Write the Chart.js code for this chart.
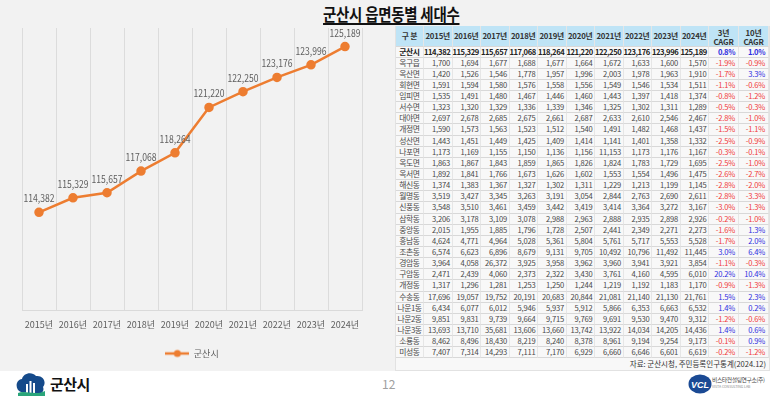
<!DOCTYPE html>
<html><head><meta charset="utf-8">
<script src="https://cdn.jsdelivr.net/npm/chart.js@4.4.1/dist/chart.umd.min.js"></script>
<style>
html,body{margin:0;padding:0;}
body{width:770px;height:396px;position:relative;overflow:hidden;background:#fff;font-family:'Noto Sans CJK KR',sans-serif;}
#panel{position:absolute;left:0;top:0;width:770px;height:371px;background:#f2f2f2;}
#title{position:absolute;left:0;top:1px;width:782px;text-align:center;}
#title span{display:inline-block;font-size:17px;font-weight:bold;color:#111;text-decoration:underline;text-underline-offset:2px;text-decoration-thickness:1.5px;transform:scaleX(0.85);letter-spacing:-0.3px;}
#chartBox{position:absolute;left:0;top:0;width:385px;height:370px;}
#tbl{position:absolute;left:395px;top:26px;width:373px;background:#f8f8f8;border-left:1px solid #e2e2e2;border-right:1px solid #e2e2e2;}
.row{display:grid;grid-template-columns:28px repeat(10,28.5px) 30px 30px;}
.row div{border-right:1px solid #e6e6e6;border-bottom:1px solid #d8d8d8;box-sizing:border-box;font-size:7.6px;color:#484848;text-align:right;padding-right:1.5px;white-space:nowrap;letter-spacing:-0.2px;line-height:10.15px;height:11.15px;overflow:visible;}
.row div.nm{text-align:center;padding:0;letter-spacing:-0.4px;font-size:7.8px;}
.hdr div{background:#bfe4f6;height:20.5px;line-height:20.5px;text-align:center;padding:0;color:#333;font-weight:bold;font-size:7.8px;white-space:pre;}
.hdr div.two{line-height:9px;padding-top:1.5px;}
.tot div{font-weight:bold;color:#222;letter-spacing:-0.45px;}
.neg{color:#f03a3a !important;}
.pos{color:#2f2fe0 !important;}
#src{height:12px;font-size:7.5px;color:#333;text-align:right;padding-right:3px;line-height:12px;border-bottom:1px solid #e2e2e2;}
#foot{position:absolute;left:0;top:371px;width:770px;height:25px;background:#fff;}
</style></head>
<body>
<div id="panel"></div>
<div id="title"><span>군산시 읍면동별 세대수</span></div>
<div id="chartBox"><canvas id="c" width="385" height="370"></canvas></div>
<div id="tbl"></div>
<div id="foot">
  <svg style="position:absolute;left:15px;top:1px" width="32" height="25" viewBox="0 0 32 25">
    <path d="M6 20 C0 18 0 8 7 7 C8 1 17 -1 21 4 C28 3 32 10 28 15 C30 20 25 23 20 22 Z" fill="#154a8a"/>
    <rect x="11" y="12" width="2" height="9" fill="#fff"/><rect x="14.5" y="9" width="2" height="12" fill="#fff"/><rect x="18" y="11" width="2" height="10" fill="#fff"/>
    <path d="M3 21 C10 18 20 24 30 19 L30 25 L3 25 Z" fill="#2aa57a"/>
  </svg>
  <div style="position:absolute;left:50px;top:2px;font-size:15px;font-weight:bold;color:#111;letter-spacing:-0.5px">군산시</div>
  <div style="position:absolute;left:382px;top:4px;font-size:12px;color:#a0a0a0">12</div>
  <svg style="position:absolute;left:688px;top:3px" width="24" height="20" viewBox="0 0 24 20">
    <ellipse cx="12" cy="10" rx="11.5" ry="9.5" fill="#1b4a94"/>
    <text x="12" y="13.5" font-size="9" font-weight="bold" font-style="italic" fill="#fff" text-anchor="middle" font-family="Liberation Sans">VCL</text>
  </svg>
  <div style="position:absolute;left:712px;top:4px;font-size:5.8px;color:#444;letter-spacing:-0.4px;white-space:nowrap">비스타컨설팅연구소(주)</div>
  <div style="position:absolute;left:712px;top:13px;font-size:3.5px;color:#888;white-space:nowrap">VISTA CONSULTING LAB</div>
</div>
<script>
// ---- chart data ----
const years = ['2015년','2016년','2017년','2018년','2019년','2020년','2021년','2022년','2023년','2024년'];
const households = [114382,115329,115657,117068,118264,121220,122250,123176,123996,125189];
const seriesName = '군산시';

// ---- table data ----
const tableHeaders = ['구 분','2015년','2016년','2017년','2018년','2019년','2020년','2021년','2022년','2023년','2024년','3년|CAGR','10년|CAGR'];
const areaNames = ['군산시','옥구읍','옥산면','회현면','임피면','서수면','대야면','개정면','성산면','나포면','옥도면','옥서면','해신동','월명동','신풍동','삼학동','중앙동','흥남동','조촌동','경암동','구암동','개정동','수송동','나운1동','나운2동','나운3동','소룡동','미성동'];
const areaValues = [
[114382,115329,115657,117068,118264,121220,122250,123176,123996,125189],
[1700,1694,1677,1688,1677,1664,1672,1633,1600,1570],
[1420,1526,1546,1778,1957,1996,2003,1978,1963,1910],
[1591,1594,1580,1576,1558,1556,1549,1546,1534,1511],
[1535,1491,1480,1467,1446,1460,1443,1397,1418,1374],
[1323,1320,1329,1336,1339,1346,1325,1302,1311,1289],
[2697,2678,2685,2675,2661,2687,2633,2610,2546,2467],
[1590,1573,1563,1523,1512,1540,1491,1482,1468,1437],
[1443,1451,1449,1425,1409,1414,1141,1401,1358,1332],
[1173,1169,1155,1150,1136,1156,11153,1173,1176,1167],
[1863,1867,1843,1859,1865,1826,1824,1783,1729,1695],
[1892,1841,1766,1673,1626,1602,1553,1554,1496,1475],
[1374,1383,1367,1327,1302,1311,1229,1213,1199,1145],
[3519,3427,3345,3263,3191,3054,2844,2763,2690,2611],
[3548,3510,3461,3459,3442,3419,3414,3364,3272,3167],
[3206,3178,3109,3078,2988,2963,2888,2935,2898,2926],
[2015,1955,1885,1796,1728,2507,2441,2349,2271,2273],
[4624,4771,4964,5028,5361,5804,5761,5717,5553,5528],
[6574,6623,6896,8679,9131,9705,10492,10796,11492,11445],
[3964,4058,26372,3925,3958,3962,3960,3941,3921,3854],
[2471,2439,4060,2373,2322,3430,3761,4160,4595,6010],
[1317,1296,1281,1253,1250,1244,1219,1192,1183,1170],
[17696,19057,19752,20191,20683,20844,21081,21140,21130,21761],
[6434,6077,6012,5946,5937,5912,5866,6353,6663,6532],
[9851,9831,9739,9664,9715,9769,9691,9530,9470,9312],
[13693,13710,35681,13606,13660,13742,13922,14034,14205,14436],
[8462,8496,18430,8219,8240,8378,8961,9194,9254,9173],
[7407,7314,14293,7111,7170,6929,6660,6646,6601,6619]
];
const cagr3 = [0.8,-1.9,-1.7,-1.1,-0.8,-0.5,-2.8,-1.5,-2.5,-0.3,-2.5,-2.6,-2.8,-2.8,-3.0,-0.2,-1.6,-1.7,3.0,-1.1,20.2,-0.9,1.5,1.4,-1.2,1.4,-0.1,-0.2];
const cagr10 = [1.0,-0.9,3.3,-0.6,-1.2,-0.3,-1.0,-1.1,-0.9,-0.1,-1.0,-2.7,-2.0,-3.3,-1.3,-1.0,1.3,2.0,6.4,-0.3,10.4,-1.3,2.3,0.2,-0.6,0.6,0.9,-1.2];
const sourceText = '자료: 군산시청, 주민등록인구통계(2024.12)';

// ---- build table ----
const tbl = document.getElementById('tbl');
const fmt = v => v.toLocaleString('en-US');
let h = '<div class="row hdr">' + tableHeaders.map(t => t.includes('|') ? '<div class="two">'+t.split('|').join('<br>')+'</div>' : '<div>'+t+'</div>').join('') + '</div>';
areaNames.forEach((n,i) => {
  h += '<div class="row'+(i===0?' tot':'')+'"><div class="nm">'+n+'</div>';
  areaValues[i].forEach(v => { h += '<div>'+fmt(v)+'</div>'; });
  [cagr3[i],cagr10[i]].forEach(v => { h += '<div class="'+(v<0?'neg':'pos')+'" style="padding-right:3px">'+v.toFixed(1)+'%</div>'; });
  h += '</div>';
});
h += '<div id="src">'+sourceText+'</div>';
tbl.innerHTML = h;

// ---- chart ----
Chart.defaults.font.family = "'Noto Sans CJK KR', sans-serif";
const orange = '#ED7D31';
const icon = document.createElement('canvas');
icon.width = 24; icon.height = 10;
(function(){const g=icon.getContext('2d');g.strokeStyle=orange;g.lineWidth=2.5;g.beginPath();g.moveTo(0,5);g.lineTo(24,5);g.stroke();g.fillStyle=orange;g.beginPath();g.arc(12,5,3.5,0,Math.PI*2);g.fill();})();

const valueLabels = {
  id: 'valueLabels',
  afterDatasetsDraw(chart) {
    const ctx = chart.ctx, meta = chart.getDatasetMeta(0);
    meta.data.forEach((pt, i) => {
      ctx.save();
      ctx.translate(pt.x, pt.y - 14);
      ctx.scale(0.82, 1);
      ctx.font = "10.5px 'Noto Sans CJK KR', sans-serif";
      ctx.fillStyle = '#606060';
      ctx.textAlign = 'center';
      ctx.textBaseline = 'middle';
      ctx.fillText(fmt(chart.data.datasets[0].data[i]), 0, 0);
      ctx.restore();
    });
  }
};

new Chart(document.getElementById('c'), {
  type: 'line',
  data: { labels: years, datasets: [{
    label: seriesName, data: households,
    borderColor: orange, backgroundColor: orange, borderWidth: 2.5,
    pointRadius: 3.5, pointBackgroundColor: orange, pointBorderColor: orange, tension: 0
  }]},
  options: {
    responsive: false, animation: false,
    layout: { padding: { left: 22, right: 23, top: 28, bottom: 2 } },
    plugins: {
      tooltip: { enabled: false },
      legend: { position: 'bottom', labels: {
        usePointStyle: true, pointStyleWidth: 24, boxHeight: 10, color: '#606060', font: { size: 9 }, padding: 10,
        generateLabels: () => [{ text: seriesName, pointStyle: icon, fillStyle: orange, strokeStyle: orange, lineWidth: 0, hidden: false, datasetIndex: 0, fontColor: '#606060' }]
      }}
    },
    scales: {
      x: { offset: true, grid: { offset: true, color: '#dcdcdc', drawTicks: false }, border: { color: '#dadada' },
           ticks: { color: '#606060', font: { size: 9 }, padding: 9, maxRotation: 0, autoSkip: false } },
      y: { display: false, min: 108000, max: 126400 }
    }
  },
  plugins: [valueLabels]
});
</script>
</body></html>
